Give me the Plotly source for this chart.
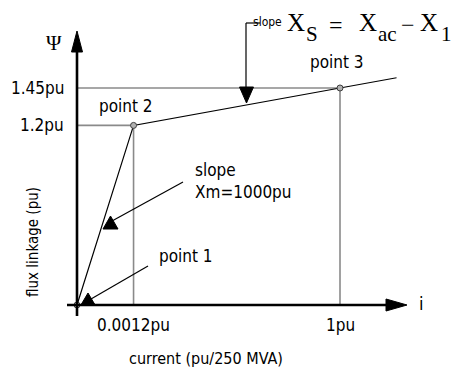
import plotly.graph_objects as go

# Magnetising characteristic (schematic, current axis not to scale)
point_names = ["point 1", "point 2", "point 3"]
current_pos = [0.0, 0.215, 1.0]          # position of each point along the i axis
psi_pu = [0.0, 1.2, 1.45]                # flux linkage at each point (pu)
current_ticks = ["", "0.0012pu", "1pu"]
psi_ticks = ["", "1.2pu", "1.45pu"]
extend_to = 1.215                        # saturated branch drawn a little past point 3

W, H = 452, 369
X0, Y0 = 77, 305           # origin in pixels
XS, YS = 263.0, 149.66     # pixels per unit


def px(x):
    return (x - X0) / XS


def py(y):
    return (Y0 - y) / YS


SANS = "DejaVu Sans Condensed, Liberation Sans Narrow, sans-serif"
SERIF = "Liberation Serif, Times New Roman, serif"
GRAY = "#8a8a8a"

# saturated branch extrapolated from point 2 -> point 3
slope_sat = (psi_pu[2] - psi_pu[1]) / (current_pos[2] - current_pos[1])
curve_x = current_pos + [extend_to]
curve_y = psi_pu + [psi_pu[2] + slope_sat * (extend_to - current_pos[2])]

fig = go.Figure()

# projection lines from points 2 and 3 to the axes
gx, gy = [], []
for xp, yp in zip(current_pos[1:], psi_pu[1:]):
    gx += [0, xp, xp, None]
    gy += [yp, yp, 0, None]
fig.add_trace(go.Scatter(x=gx, y=gy, mode="lines",
                         line=dict(color=GRAY, width=1.6), hoverinfo="skip"))

fig.add_trace(go.Scatter(x=curve_x, y=curve_y, mode="lines",
                         line=dict(color="black", width=1.2), hoverinfo="skip"))

fig.add_trace(go.Scatter(x=current_pos, y=psi_pu, mode="markers",
                         marker=dict(symbol="circle", size=6, color="#b0b0b0",
                                     line=dict(color="#404040", width=1)),
                         hoverinfo="skip"))

shapes = []


def seg(x0, y0, x1, y1, w=1.2, c="black"):
    shapes.append(dict(type="line", x0=px(x0), y0=py(y0), x1=px(x1), y1=py(y1),
                       line=dict(color=c, width=w)))


def tri(pts):
    d = "M " + " L ".join(f"{px(a)},{py(b)}" for a, b in pts) + " Z"
    shapes.append(dict(type="path", path=d, fillcolor="black",
                       line=dict(color="black", width=1)))


# axes with arrowheads
seg(77, 316, 77, 48, w=2.6)
tri([(77, 31), (71.5, 52), (82.5, 52)])
seg(67, 305, 390, 305, w=2.6)
tri([(407, 305), (386, 299), (386, 311)])

# slope indicator for the saturated branch
seg(260, 23, 246, 23)
seg(246, 23, 246, 89)
tri([(246.5, 103), (239.5, 87), (253.5, 87)])

# slope Xm pointer
seg(183, 182, 112, 221)
tri([(110.5, 216), (103, 229), (118, 229)])

# point 1 pointer
seg(148, 266, 91, 299)
tri([(88, 293), (81.5, 304), (94.5, 304)])

ann = []


def text(t, x, y, size=17, font=SANS, xa="center", ya="middle", angle=0):
    ann.append(dict(text=t, x=px(x), y=py(y), xref="x", yref="y", showarrow=False,
                    xanchor=xa, yanchor=ya, textangle=angle, align="left",
                    font=dict(family=font, size=size, color="black")))


# tick labels placed at the data positions
for pos, lab in zip(current_pos, current_ticks):
    if lab:
        ann.append(dict(text=lab, x=pos, y=0, xref="x", yref="y", showarrow=False,
                        yshift=-20, font=dict(family=SANS, size=17, color="black")))
for val, lab in zip(psi_pu, psi_ticks):
    if lab:
        ann.append(dict(text=lab, x=0, y=val, xref="x", yref="y", showarrow=False,
                        xanchor="right", xshift=-11,
                        font=dict(family=SANS, size=17, color="black")))

text("Ψ", 54, 43, size=21, font=SERIF)
text("i", 421, 303, size=18)
text("point 1", 157, 256, xa="left")
text("point 2", 126, 106)
text("point 3", 337, 62)
text("slope<br>Xm=1000pu", 193, 181, xa="left")
text("current (pu/250 MVA)", 206, 358, size=16)
text("flux linkage (pu)", 33, 242, size=15, angle=-90)

# X_S = X_ac - X_1
text("slope", 284, 22, size=12, xa="right")
text("X", 285, 22.5, size=25, font=SERIF, xa="left")
text("S", 304, 33.5, size=21, font=SERIF, xa="left")
text("=", 336, 25, size=24, font=SERIF)
text("X", 357, 22.5, size=25, font=SERIF, xa="left")
text("ac", 376, 33.5, size=21, font=SERIF, xa="left")
text("\u2212", 408, 25, size=24, font=SERIF)
text("X", 418, 22.5, size=25, font=SERIF, xa="left")
text("1", 439, 33.5, size=21, font=SERIF, xa="left")

fig.update_layout(
    width=W, height=H, margin=dict(l=0, r=0, t=0, b=0),
    paper_bgcolor="white", plot_bgcolor="white", showlegend=False,
    xaxis=dict(range=[px(0), px(W)], visible=False, fixedrange=True),
    yaxis=dict(range=[py(H), py(0)], visible=False, fixedrange=True),
    shapes=shapes, annotations=ann,
)

fig.write_html("out.html")
